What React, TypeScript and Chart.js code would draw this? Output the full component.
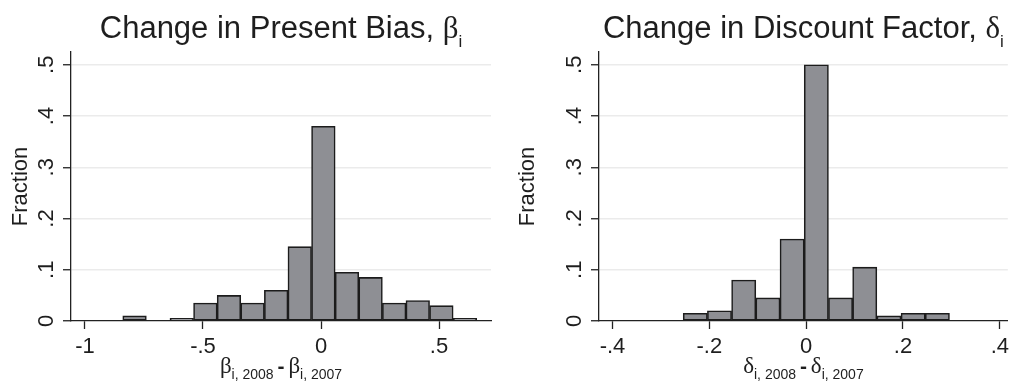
import React, { useEffect, useRef } from 'react';
import { Chart, registerables } from 'chart.js';

Chart.register(...registerables);

// ---- Data ----
const betaBinCenters = [-0.79, -0.59, -0.49, -0.39, -0.29, -0.19, -0.09, 0.01, 0.11, 0.21, 0.31, 0.41, 0.51, 0.61];
const betaFractions = [0.01, 0.005, 0.035, 0.05, 0.035, 0.06, 0.145, 0.38, 0.095, 0.085, 0.035, 0.04, 0.03, 0.005];

const deltaBinCenters = [-0.229, -0.179, -0.129, -0.079, -0.029, 0.021, 0.071, 0.121, 0.171, 0.221, 0.271];
const deltaFractions = [0.015, 0.02, 0.08, 0.045, 0.16, 0.5, 0.045, 0.105, 0.01, 0.015, 0.015];

const betaXRange = [-1.0593, 0.7203];
const betaXStep = 0.5;
const deltaXRange = [-0.4279, 0.4165];
const deltaXStep = 0.2;
const yRange = [0, 0.525];
const yStep = 0.1;

const titleLeft = 'Change in Present Bias, ';
const titleRight = 'Change in Discount Factor, ';
const yTitle = 'Fraction';

const SANS = '"Liberation Sans", Arial, sans-serif';
const SERIF = '"Liberation Serif", "Times New Roman", serif';
const TEXT = '#1e1e1e';

type Seg = { text: string; font: string; dy: number };

function drawRich(ctx: CanvasRenderingContext2D, segs: Seg[], cx: number, baseline: number) {
  let total = 0;
  const widths = segs.map((s) => {
    ctx.font = s.font;
    const w = ctx.measureText(s.text).width;
    total += w;
    return w;
  });
  let x = cx - total / 2;
  ctx.save();
  ctx.fillStyle = TEXT;
  ctx.textBaseline = 'alphabetic';
  ctx.textAlign = 'left';
  segs.forEach((s, i) => {
    ctx.font = s.font;
    ctx.fillText(s.text, x, baseline + s.dy);
    x += widths[i];
  });
  ctx.restore();
}

function fmt(v: number): string {
  const r = Math.round(v * 100) / 100;
  if (r === 0) return '0';
  let s = String(r);
  s = s.replace(/^(-?)0\./, '$1.');
  return s;
}

function titleSegs(main: string, greek: string): Seg[] {
  return [
    { text: main, font: `31px ${SANS}`, dy: 0 },
    { text: greek, font: `31px ${SERIF}`, dy: 0 },
    { text: 'i', font: `17px ${SANS}`, dy: 9 },
  ];
}

function xTitleSegs(greek: string): Seg[] {
  return [
    { text: greek, font: `23px ${SERIF}`, dy: 0 },
    { text: 'i, 2008', font: `14px ${SANS}`, dy: 6 },
    { text: ' ', font: `14px ${SANS}`, dy: 0 },
    { text: '-', font: `bold 21px ${SANS}`, dy: 0 },
    { text: ' ', font: `14px ${SANS}`, dy: 0 },
    { text: greek, font: `23px ${SERIF}`, dy: 0 },
    { text: 'i, 2007', font: `14px ${SANS}`, dy: 6 },
  ];
}

function makeChart(
  canvas: HTMLCanvasElement,
  centers: number[],
  fractions: number[],
  xRange: number[],
  xStep: number,
  yAxisWidth: number,
  rightPad: number,
  title: Seg[],
  xTitle: Seg[]
) {
  const textPlugin = {
    id: 'richText',
    beforeDraw(chart: any) {
      const c = chart.ctx;
      c.save();
      c.fillStyle = '#ffffff';
      c.fillRect(0, 0, chart.width, chart.height);
      c.restore();
    },
    afterDraw(chart: any) {
      const a = chart.chartArea;
      const cx = (a.left + a.right) / 2;
      drawRich(chart.ctx, title, cx, 38);
      drawRich(chart.ctx, xTitle, cx, 373);
    },
  };

  return new Chart(canvas, {
    type: 'bar',
    data: {
      datasets: [
        {
          data: centers.map((x, i) => ({ x, y: fractions[i] })),
          backgroundColor: '#8e8f94',
          borderColor: '#1c1c1c',
          borderWidth: 1.6,
          borderSkipped: false,
          barPercentage: 1,
          categoryPercentage: 1,
        },
      ],
    },
    options: {
      animation: false,
      responsive: false,
      devicePixelRatio: 1,
      layout: { padding: { top: 52, right: rightPad, left: 0, bottom: 0 } },
      plugins: { legend: { display: false }, tooltip: { enabled: false }, title: { display: false } },
      scales: {
        x: {
          type: 'linear',
          offset: false,
          min: xRange[0],
          max: xRange[1],
          afterFit: (s: any) => {
            s.height = 63;
          },
          ticks: {
            stepSize: xStep,
            includeBounds: false,
            autoSkip: false,
            maxRotation: 0,
            minRotation: 0,
            padding: 5,
            color: TEXT,
            font: { family: SANS, size: 22 },
            callback: (v: any) => fmt(Number(v)),
          },
          grid: {
            offset: false,
            drawOnChartArea: false,
            drawTicks: true,
            tickLength: 8,
            tickColor: '#222',
            tickWidth: 1.3,
          },
          border: { display: true, color: '#222', width: 1.3 },
        },
        y: {
          type: 'linear',
          min: yRange[0],
          max: yRange[1],
          afterFit: (s: any) => {
            s.width = yAxisWidth;
          },
          title: {
            display: true,
            text: yTitle,
            color: TEXT,
            font: { family: SANS, size: 22 },
            padding: { top: 8, bottom: 0 },
          },
          ticks: {
            stepSize: yStep,
            includeBounds: false,
            minRotation: 90,
            maxRotation: 90,
            crossAlign: 'center',
            padding: 7,
            color: TEXT,
            font: { family: SANS, size: 22 },
            callback: (v: any) => fmt(Number(v)),
          },
          grid: {
            color: (ctx: any) => (ctx.tick && ctx.tick.value === 0 ? 'rgba(0,0,0,0)' : '#ebebeb'),
            lineWidth: 1.5,
            drawTicks: true,
            tickLength: 8,
            tickColor: '#222',
            tickWidth: 1.3,
          },
          border: { display: true, color: '#222', width: 1.3 },
        },
      },
    } as any,
    plugins: [textPlugin],
  });
}

export default function App() {
  const leftRef = useRef<HTMLCanvasElement>(null);
  const rightRef = useRef<HTMLCanvasElement>(null);

  useEffect(() => {
    const c1 = makeChart(
      leftRef.current!,
      betaBinCenters,
      betaFractions,
      betaXRange,
      betaXStep,
      71,
      16,
      titleSegs(titleLeft, 'β'),
      xTitleSegs('β')
    );
    const c2 = makeChart(
      rightRef.current!,
      deltaBinCenters,
      deltaFractions,
      deltaXRange,
      deltaXStep,
      92,
      0,
      titleSegs(titleRight, 'δ'),
      xTitleSegs('δ')
    );
    return () => {
      c1.destroy();
      c2.destroy();
    };
  }, []);

  return (
    <div style={{ position: 'absolute', left: 0, top: 0, width: 1014, height: 384, background: '#fff', display: 'flex' }}>
      <canvas ref={leftRef} width={507} height={384} style={{ width: 507, height: 384, display: 'block' }} />
      <canvas ref={rightRef} width={507} height={384} style={{ width: 507, height: 384, display: 'block' }} />
    </div>
  );
}
